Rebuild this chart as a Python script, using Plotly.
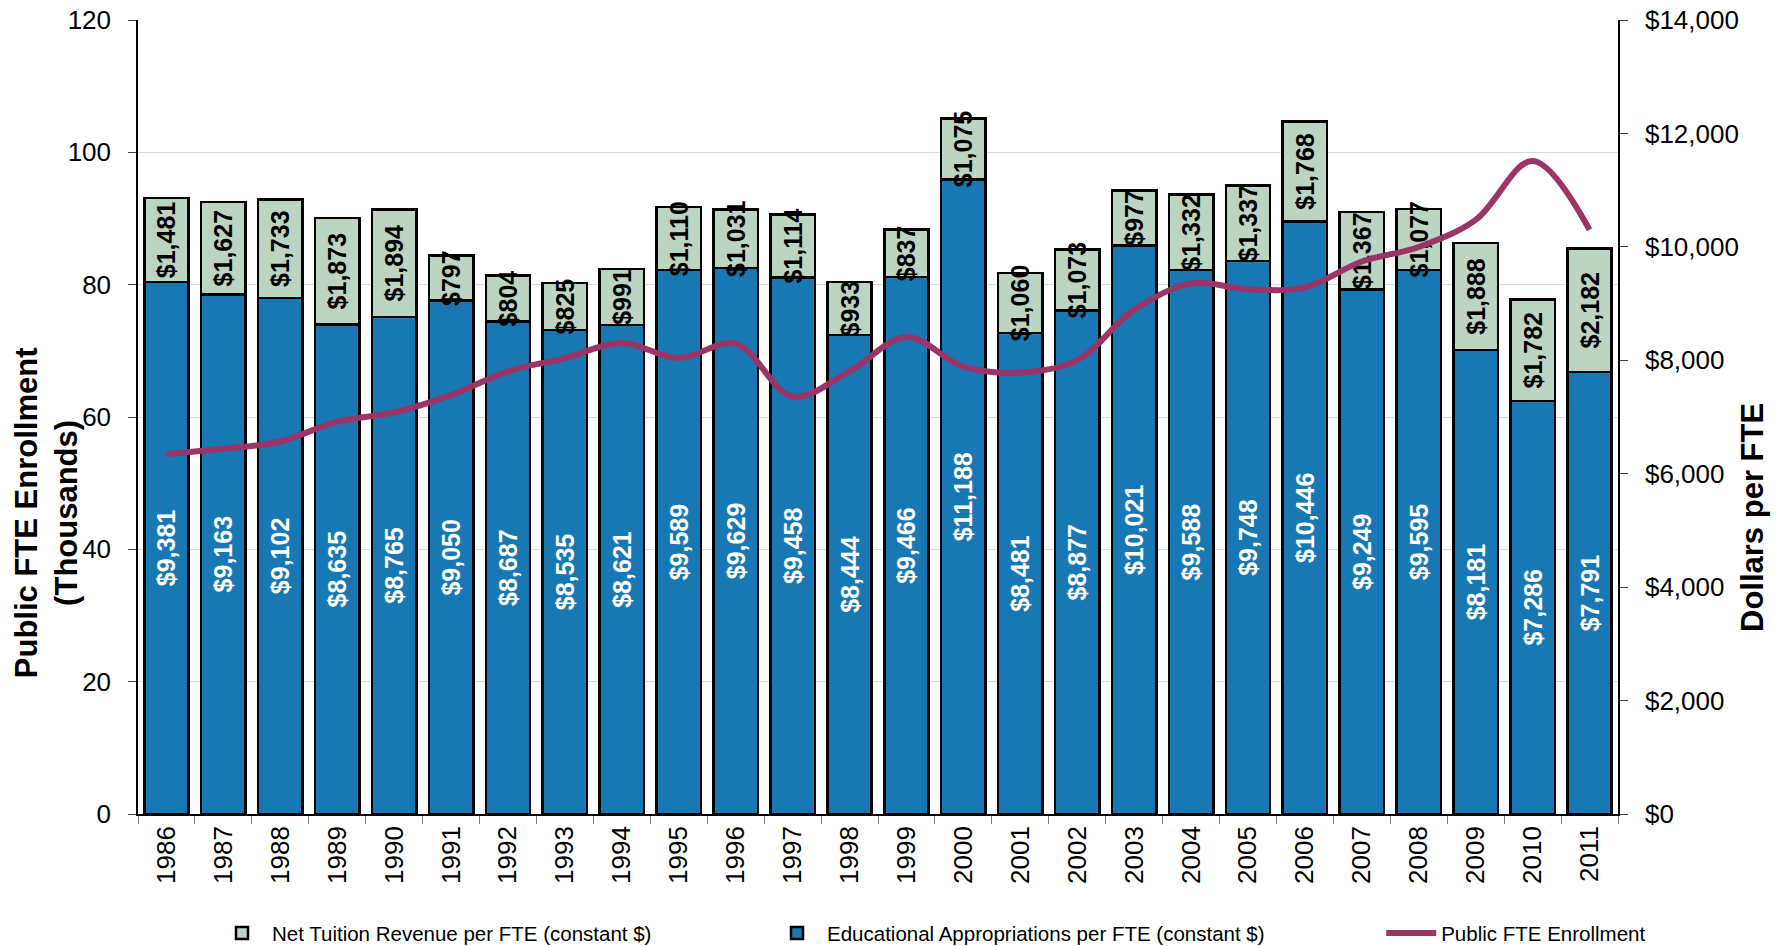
import plotly.graph_objects as go

years = [str(y) for y in range(1986, 2012)]
appropriations = [9381, 9163, 9102, 8635, 8765, 9050, 8687, 8535, 8621, 9589, 9629, 9458, 8444,
                  9466, 11188, 8481, 8877, 10021, 9588, 9748, 10446, 9249, 9595, 8181, 7286, 7791]
tuition = [1481, 1627, 1733, 1873, 1894, 797, 804, 825, 991, 1110, 1031, 1114, 933,
           837, 1075, 1060, 1073, 977, 1332, 1337, 1768, 1367, 1077, 1888, 1782, 2182]
enrollment = [54.4, 55.2, 56.3, 59.3, 60.7, 63.3, 66.9, 68.9, 71.2, 68.9, 71.1, 63.1, 66.9,
              72.1, 67.6, 66.7, 68.6, 76.2, 80.2, 79.3, 79.6, 83.5, 85.7, 89.8, 98.7, 88.3]

FONT = "Liberation Sans, Arial, sans-serif"
BLUE = "#1878B4"
GREEN = "#BCD5C2"
LINE = "#9B3467"

fig = go.Figure()
fig.add_trace(go.Bar(
    x=years, y=appropriations, name="Educational Appropriations per FTE (constant $)",
    marker=dict(color=BLUE, line=dict(color="black", width=2.5)),
    texttemplate="$%{y:,.0f}", textposition="inside", insidetextanchor="middle",
    textangle=-90, constraintext="none",
    insidetextfont=dict(family=FONT, size=25, color="white", weight="bold"),
    yaxis="y", legend="legend2", hoverinfo="skip"))
fig.add_trace(go.Bar(
    x=years, y=tuition, name="Net Tuition Revenue per FTE (constant $)",
    marker=dict(color=GREEN, line=dict(color="black", width=2.5)),
    texttemplate="$%{y:,.0f}", textposition="inside", insidetextanchor="middle",
    textangle=-90, constraintext="none",
    insidetextfont=dict(family=FONT, size=25, color="black", weight="bold"),
    yaxis="y", legend="legend", hoverinfo="skip"))
fig.add_trace(go.Scatter(
    x=years, y=enrollment, name="Public FTE Enrollment", mode="lines",
    line=dict(color=LINE, width=6, shape="spline", smoothing=1.0),
    yaxis="y2", legend="legend3", hoverinfo="skip"))

legend_common = dict(orientation="h", yanchor="middle", y=-0.15, xanchor="left",
                     font=dict(family=FONT, size=20.5, color="black"),
                     bgcolor="rgba(0,0,0,0)", itemwidth=50)
fig.update_layout(
    width=1778, height=938,
    margin=dict(l=130, r=168, t=12, b=132, autoexpand=False),
    paper_bgcolor="white", plot_bgcolor="white",
    showlegend=True,
    barmode="stack", bargap=0.22,
    font=dict(family=FONT, size=26, color="black"),
    xaxis=dict(type="category", tickangle=-90, tickfont=dict(size=26),
               showline=True, linecolor="black", linewidth=1.5,
               ticks="outside", tickson="boundaries", ticklen=8, tickcolor="#808080",
               showgrid=False, ticklabeloverflow="allow"),
    yaxis=dict(side="right", range=[0, 14000], dtick=2000, tickprefix="$", tickformat=",",
               showgrid=False, zeroline=False, showline=True, linecolor="black", linewidth=1.5,
               ticks="outside", ticklen=8, tickcolor="#404040", ticklabelstandoff=12,
               tickfont=dict(size=26), ticklabeloverflow="allow"),
    yaxis2=dict(overlaying="y", side="left", range=[0, 120], dtick=20,
                showgrid=True, gridcolor="#D9D9D9", gridwidth=1, zeroline=False,
                showline=True, linecolor="black", linewidth=1.5,
                ticks="outside", ticklen=8, tickcolor="#404040", ticklabelstandoff=12,
                tickfont=dict(size=26), ticklabeloverflow="allow"),
    legend=dict(legend_common, x=0.050),
    legend2=dict(legend_common, x=0.425),
    legend3=dict(legend_common, x=0.840),
    annotations=[
        dict(text="<b>Public FTE Enrollment<br>(Thousands)</b>", xref="paper", yref="paper",
             x=-0.0622, y=0.38, xanchor="center", yanchor="middle", textangle=-90,
             showarrow=False, font=dict(family=FONT, size=31, color="black")),
        dict(text="<b>Dollars per FTE</b>", xref="paper", yref="paper",
             x=1.0905, y=0.374, xanchor="center", yanchor="middle", textangle=-90,
             showarrow=False, font=dict(family=FONT, size=31, color="black")),
    ],
)

fig.write_html("out.html")
